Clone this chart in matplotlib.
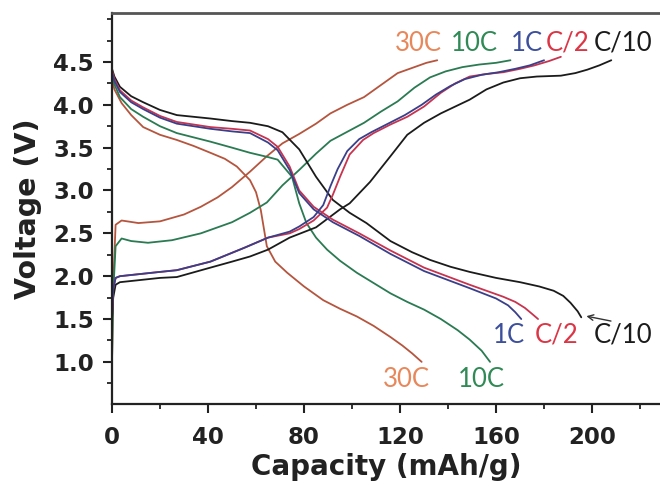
import matplotlib
matplotlib.use("Agg")
import matplotlib.pyplot as plt
from matplotlib.ticker import MultipleLocator

# ---------------- data ----------------
rates = ["C/10", "C/2", "1C", "10C", "30C"]

# discharge curves
dis_c10_x = [0, 1, 3.3, 8, 13, 20, 27, 41, 50, 57.5, 65, 71, 78, 85, 92, 99, 106, 116, 125, 132.5, 141, 149, 160, 170, 178, 184, 188, 191, 194, 195.5]
dis_c10_v = [4.42, 4.33, 4.21, 4.10, 4.03, 3.94, 3.88, 3.84, 3.81, 3.79, 3.75, 3.68, 3.48, 3.16, 2.89, 2.74, 2.62, 2.41, 2.28, 2.19, 2.11, 2.05, 1.98, 1.93, 1.88, 1.83, 1.77, 1.69, 1.59, 1.52]

dis_c2_x = [0, 1, 3.3, 8, 13, 20, 27, 41, 50, 57.5, 65, 69, 74, 78, 84, 92, 103, 116, 130, 149, 163, 168, 172, 175, 177.5]
dis_c2_v = [4.40, 4.30, 4.17, 4.05, 3.97, 3.87, 3.80, 3.74, 3.72, 3.70, 3.60, 3.51, 3.28, 3.00, 2.81, 2.66, 2.50, 2.30, 2.10, 1.90, 1.76, 1.70, 1.63, 1.56, 1.50]

dis_1c_x = [0, 1, 3.3, 8, 13, 20, 27, 41, 50, 57.5, 65, 69, 74, 78, 84, 92, 103, 116, 130, 149, 160, 165, 168, 170.5]
dis_1c_v = [4.38, 4.28, 4.15, 4.03, 3.95, 3.85, 3.78, 3.72, 3.69, 3.67, 3.56, 3.47, 3.24, 2.97, 2.78, 2.63, 2.47, 2.26, 2.06, 1.86, 1.74, 1.66, 1.58, 1.50]

dis_10c_x = [0, 1, 3.3, 8, 13, 20, 27, 41, 50, 57.5, 65, 69, 75, 78, 81, 85, 89.6, 95, 102, 109, 116, 123, 130, 137, 144, 149, 154, 157.5]
dis_10c_v = [4.36, 4.24, 4.09, 3.95, 3.86, 3.75, 3.67, 3.57, 3.50, 3.44, 3.39, 3.36, 3.16, 2.85, 2.62, 2.45, 2.31, 2.18, 2.04, 1.92, 1.80, 1.70, 1.61, 1.50, 1.37, 1.26, 1.13, 1.00]

dis_30c_x = [0, 1, 4, 8, 13, 20, 27, 34, 41, 47, 52, 57.5, 60, 62, 64.5, 68, 73, 80, 88, 95, 102, 109, 116, 121, 125, 129]
dis_30c_v = [4.30, 4.18, 4.02, 3.88, 3.74, 3.65, 3.59, 3.52, 3.44, 3.37, 3.28, 3.12, 2.98, 2.77, 2.35, 2.17, 2.04, 1.88, 1.72, 1.62, 1.53, 1.42, 1.29, 1.19, 1.10, 1.00]

# charge curves
chg_c10_x = [0, 0.5, 1.5, 3.3, 10, 20, 27, 41, 50, 57.5, 65, 74, 85, 95, 99, 107.5, 116, 123, 130, 137, 143, 149, 156, 163, 170, 177, 187, 193, 198, 203, 208]
chg_c10_v = [1.50, 1.75, 1.90, 1.93, 1.95, 1.98, 1.99, 2.10, 2.17, 2.23, 2.31, 2.45, 2.57, 2.78, 2.85, 3.10, 3.40, 3.65, 3.79, 3.90, 3.98, 4.06, 4.18, 4.26, 4.31, 4.33, 4.34, 4.37, 4.41, 4.46, 4.52]

chg_c2_x = [0, 0.5, 1.5, 3.3, 10, 20, 27, 41, 55, 65, 74, 78, 84, 89.6, 92, 95, 99, 104.6, 109, 116, 123, 130, 137, 143, 149, 156, 163, 170, 176, 182, 187]
chg_c2_v = [1.50, 1.85, 1.98, 2.00, 2.02, 2.05, 2.07, 2.17, 2.33, 2.45, 2.50, 2.55, 2.65, 2.80, 2.95, 3.16, 3.42, 3.59, 3.67, 3.77, 3.86, 3.98, 4.14, 4.25, 4.33, 4.36, 4.38, 4.42, 4.46, 4.51, 4.56]

chg_1c_x = [0, 0.5, 1.5, 3.3, 10, 20, 27, 41, 55, 65, 74, 78, 84, 88, 91, 94, 98, 103, 108, 115, 122, 129, 135, 141, 147, 154, 161, 168, 174, 180]
chg_1c_v = [1.50, 1.85, 1.98, 2.00, 2.02, 2.05, 2.07, 2.17, 2.33, 2.45, 2.52, 2.58, 2.69, 2.83, 3.05, 3.25, 3.46, 3.60, 3.68, 3.78, 3.88, 4.00, 4.12, 4.22, 4.30, 4.35, 4.38, 4.42, 4.46, 4.52]

chg_10c_x = [0, 0.5, 1.5, 4, 8, 15, 25, 37, 50, 57.5, 64.5, 71, 78, 85, 91, 99, 105, 112, 119, 126, 132.5, 139, 146, 153, 160, 166]
chg_10c_v = [1.00, 1.80, 2.35, 2.44, 2.41, 2.39, 2.42, 2.50, 2.63, 2.74, 2.86, 3.06, 3.24, 3.43, 3.58, 3.70, 3.79, 3.92, 4.04, 4.20, 4.32, 4.39, 4.44, 4.47, 4.49, 4.52]

chg_30c_x = [0, 0.5, 1.5, 4, 11, 20, 30, 37, 44, 50, 57.5, 64.5, 71, 78, 85, 91, 98, 105, 112, 119, 126, 131, 135.5]
chg_30c_v = [1.00, 1.90, 2.60, 2.65, 2.62, 2.64, 2.72, 2.81, 2.92, 3.04, 3.22, 3.40, 3.55, 3.66, 3.78, 3.90, 4.00, 4.09, 4.23, 4.37, 4.44, 4.49, 4.52]

x_ticks = [0, 40, 80, 120, 160, 200]
y_ticks = [1.0, 1.5, 2.0, 2.5, 3.0, 3.5, 4.0, 4.5]

# ---------------- styling ----------------
line_colors = {"C/10": "#1b1b1b", "C/2": "#c8334f", "1C": "#3a3f8a",
               "10C": "#2a7a52", "30C": "#b5553e"}
text_colors = {"C/10": "#1b1b1b", "C/2": "#dc3545", "1C": "#3c4f9c",
               "10C": "#2f8a55", "30C": "#e8875a"}

curves = {
    "C/10": [(dis_c10_x, dis_c10_v), (chg_c10_x, chg_c10_v)],
    "C/2": [(dis_c2_x, dis_c2_v), (chg_c2_x, chg_c2_v)],
    "1C": [(dis_1c_x, dis_1c_v), (chg_1c_x, chg_1c_v)],
    "10C": [(dis_10c_x, dis_10c_v), (chg_10c_x, chg_10c_v)],
    "30C": [(dis_30c_x, dis_30c_v), (chg_30c_x, chg_30c_v)],
}

fig = plt.figure(figsize=(6.6, 4.86), dpi=100)
ax = fig.add_axes([0.1697, 0.169, 0.8303, 0.804])

for r in ["30C", "10C", "C/10", "C/2", "1C"]:
    for xs, vs in curves[r]:
        ax.plot(xs, vs, color=line_colors[r], lw=1.3, solid_capstyle="round",
                solid_joinstyle="round")

ax.set_xlim(0, 228.3)
ax.set_ylim(0.51, 5.07)
ax.set_xticks(x_ticks)
ax.set_yticks(y_ticks)
ax.xaxis.set_minor_locator(MultipleLocator(20))
ax.yaxis.set_minor_locator(MultipleLocator(0.25))
ax.set_yticklabels([f"{v:.1f}" for v in y_ticks])

for s in ["left", "bottom"]:
    ax.spines[s].set_linewidth(1.6)
    ax.spines[s].set_color("#222222")
ax.spines["top"].set_linewidth(2.0)
ax.spines["top"].set_color("#555555")
ax.spines["right"].set_visible(False)

ax.tick_params(which="major", direction="out", length=6.5, width=1.5, color="#222222",
               top=False, right=False)
ax.tick_params(which="minor", direction="out", length=3.8, width=1.3, color="#222222",
               top=False, right=False)
ax.tick_params(axis="x", which="major", pad=9.5)
ax.tick_params(axis="y", which="major", pad=6.5)
for lab in ax.get_xticklabels() + ax.get_yticklabels():
    lab.set_fontweight("bold")
    lab.set_fontsize(16.5)
    lab.set_color("#222222")

ax.set_xlabel("Capacity (mAh/g)", fontsize=20, fontweight="bold", color="#222222", labelpad=3)
ax.set_ylabel("Voltage (V)", fontsize=20.5, fontweight="bold", color="#222222", labelpad=8)

lab_font = dict(family=["Lato", "DejaVu Sans"], fontsize=18.5, ha="center", va="center")
top_labels = [("30C", 127.5), ("10C", 151), ("1C", 173), ("C/2", 189.6), ("C/10", 213)]
for name, xp in top_labels:
    ax.text(xp, 4.72, name, color=text_colors[name], **lab_font)
bot_labels = [("1C", 165.4, 1.31), ("C/2", 185.4, 1.31), ("C/10", 213, 1.31),
              ("30C", 122.5, 0.79), ("10C", 154, 0.79)]
for name, xp, yp in bot_labels:
    ax.text(xp, yp, name, color=text_colors[name], **lab_font)

ax.annotate("", xy=(196.5, 1.54), xytext=(209, 1.47),
            arrowprops=dict(arrowstyle="->", color="#333333", lw=1.0))

fig.savefig("out.png", dpi=100)
